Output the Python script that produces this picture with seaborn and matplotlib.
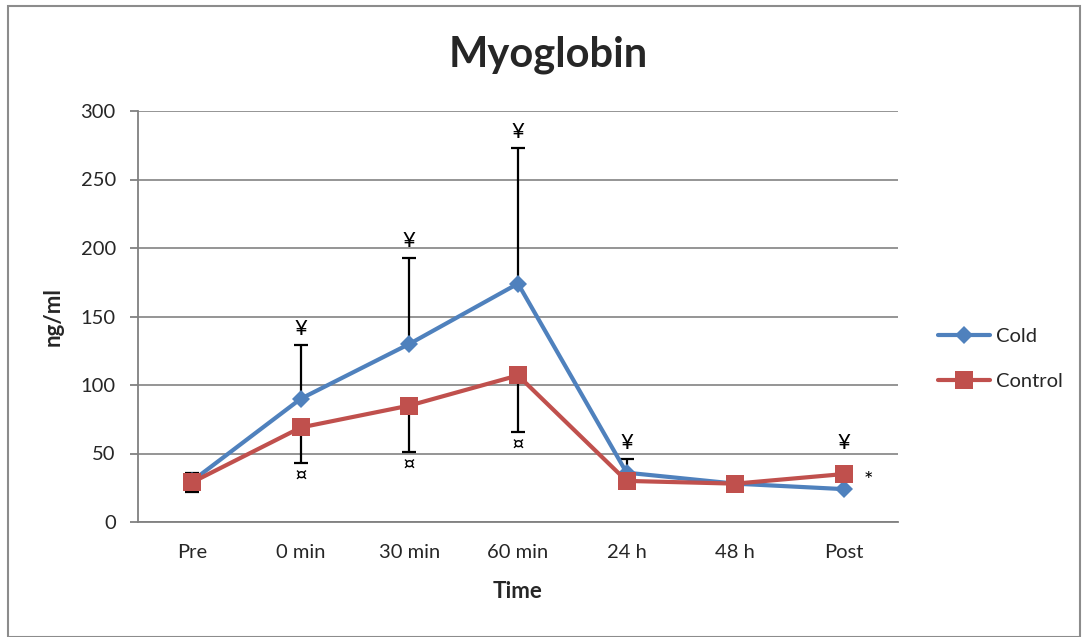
import matplotlib
matplotlib.use("Agg")
import matplotlib.pyplot as plt
import seaborn as sns
import pandas as pd
import numpy as np
from matplotlib.patches import Rectangle
from matplotlib.lines import Line2D

sns.set_theme(style="white")
plt.rcParams["font.family"] = ["Lato", "DejaVu Sans"]

# Time points and mean myoglobin concentrations (ng/ml)
times = ["Pre", "0 min", "30 min", "60 min", "24 h", "48 h", "Post"]
cold = [30, 90, 130, 174, 36, 28, 24]
control = [29, 69, 85, 107, 30, 28, 35]
# One-sided SD bars: upward for Cold, downward for Control
cold_err = [6, 39, 63, 99, 10, 0, 0]
control_err = [7, 26, 34, 41, 0, 0, 0]
# Significance markers
cold_marks = ["", "¥", "¥", "¥", "¥", "", "¥"]
control_marks = ["", "¤", "¤", "¤", "", "", ""]

blue = "#4F81BD"
red = "#C0504D"

df = pd.DataFrame({
    "Time": times * 2,
    "pos": list(range(len(times))) * 2,
    "value": cold + control,
    "group": ["Cold"] * len(times) + ["Control"] * len(times),
})

fig = plt.figure(figsize=(10.89, 6.37), dpi=100)
ax = fig.add_axes([138 / 1089, 1 - 522 / 637, 760 / 1089, 411 / 637])

x = np.arange(len(times))
cap = 0.065  # half-width of error bar caps, in category units


def one_sided_bars(xs, base, err, sign):
    for xi, b, e in zip(xs, base, err):
        if e <= 0:
            continue
        end = b + sign * e
        ax.vlines(xi, b, end, color="black", linewidth=1.6, zorder=2)
        ax.hlines(end, xi - cap, xi + cap, color="black", linewidth=1.6, zorder=2)


one_sided_bars(x, cold, cold_err, +1)
one_sided_bars(x, control, control_err, -1)

sns.lineplot(data=df, x="pos", y="value", hue="group", style="group",
             markers={"Cold": "D", "Control": "s"}, dashes=False,
             palette={"Cold": blue, "Control": red}, linewidth=3,
             markersize=10, markeredgewidth=0, ax=ax, zorder=3, legend=False)
for line in ax.get_lines():
    if line.get_marker() == "s":
        line.set_markersize(13)
    elif line.get_marker() == "D":
        line.set_markersize(9)

# Significance symbols: above the upper whisker (or the higher marker), below the lower whisker
for i in range(len(times)):
    if cold_marks[i]:
        if cold_err[i] > 0:
            y_mark = cold[i] + cold_err[i] + 12
        else:
            y_mark = max(cold[i], control[i]) + 23
        ax.text(x[i], y_mark, cold_marks[i], ha="center", va="center",
                fontsize=16, color="black", zorder=4)
    if control_marks[i]:
        ax.text(x[i], control[i] - control_err[i] - 10, control_marks[i],
                ha="center", va="center", fontsize=16, color="black", zorder=4)
ax.text(x[-1] + 0.23, 30, "*", ha="center", va="center", fontsize=16, color="black")

ax.set_xlim(-0.5, len(times) - 0.5)
ax.set_ylim(0, 300)
ax.set_yticks(range(0, 301, 50))
ax.set_xticks(x)
ax.set_xticklabels(times, fontsize=14.5)
ax.set_xticks(np.arange(-0.5, len(times), 1), minor=True)
ax.tick_params(axis="x", which="major", length=0, pad=16)
ax.tick_params(axis="x", which="minor", length=6, color="#808080", width=1.3)
ax.tick_params(axis="y", length=6, color="#808080", width=1.3, labelsize=14.5,
               direction="out", left=True, pad=10)
ax.yaxis.grid(True, color="#8C8C8C", linewidth=1.3)
ax.set_axisbelow(True)
for side in ["top", "right"]:
    ax.spines[side].set_visible(False)
for side in ["left", "bottom"]:
    ax.spines[side].set_color("#808080")
    ax.spines[side].set_linewidth(1.3)

ax.set_xlabel("Time", fontsize=16, fontweight="bold", labelpad=14)
ax.set_ylabel("ng/ml", fontsize=16, fontweight="bold", labelpad=12)
fig.text(548 / 1089, 1 - 55 / 637, "Myoglobin", ha="center", va="center",
         fontsize=30, fontweight="bold")

# Legend
handles = [
    Line2D([0], [0], color=blue, marker="D", markersize=9, linewidth=3, markeredgewidth=0),
    Line2D([0], [0], color=red, marker="s", markersize=13, linewidth=3, markeredgewidth=0),
]
fig.legend(handles, ["Cold", "Control"], loc="center left",
           bbox_to_anchor=(920 / 1089, 1 - 359 / 637), frameon=False,
           fontsize=14.5, handlelength=2.6, labelspacing=1.4, handletextpad=0.25)

# Chart border
fig.patches.append(Rectangle((8 / 1089, 0), 1072 / 1089, 1 - 6 / 637,
                             transform=fig.transFigure, fill=False,
                             edgecolor="#8C8C8C", linewidth=1.5))

fig.savefig("out.png", dpi=100, facecolor="white")
